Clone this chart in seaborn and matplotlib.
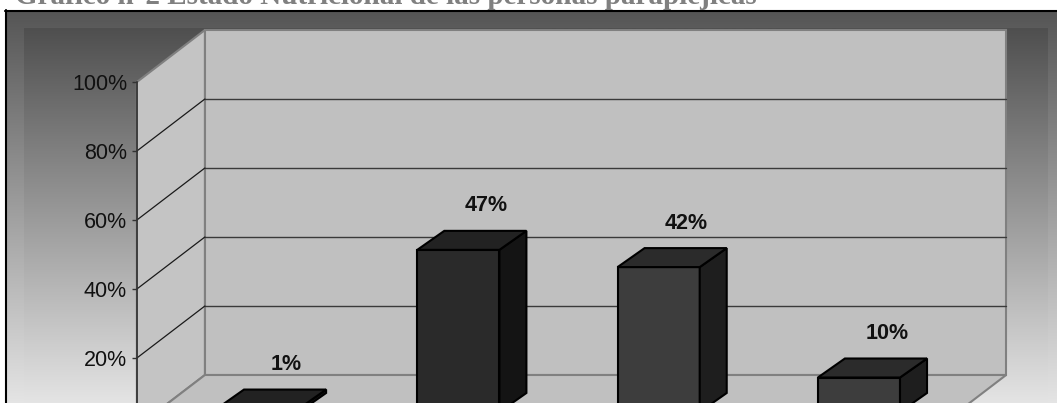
import numpy as np
import matplotlib
matplotlib.use("Agg")
import matplotlib.pyplot as plt
import seaborn as sns
from matplotlib.patches import Polygon, Rectangle
from matplotlib.ticker import PercentFormatter

# ---------------- data ----------------
title = "Gráfico n°2 Estado Nutricional de las personas parapléjicas"
categories = ["Bajo peso", "Normal", "Sobrepeso", "Obesidad"]
values = [1, 47, 42, 10]
value_labels = ["1%", "47%", "42%", "10%"]
yticks = [20, 40, 60, 80, 100]

front_colors = ["#2a2a2a", "#2a2a2a", "#3d3d3d", "#3d3d3d"]
top_colors = ["#222222", "#222222", "#2b2b2b", "#2b2b2b"]
side_colors = ["#141414", "#141414", "#1e1e1e", "#1e1e1e"]

sns.set_theme(style="white")
plt.rcParams["font.family"] = ["Liberation Sans", "DejaVu Sans"]

FW, FH = 1057, 403
fig = plt.figure(figsize=(FW / 100, FH / 100), dpi=100)
fig.patch.set_facecolor("white")

# ---------------- background (pixel coords) ----------------
bg = fig.add_axes([0, 0, 1, 1], zorder=-10)
bg.set_xlim(0, FW)
bg.set_ylim(FH, 0)
bg.axis("off")
grad = np.linspace(0, 1, 256).reshape(-1, 1)
cmap = matplotlib.colors.LinearSegmentedColormap.from_list("g", ["#555555", "#e8e8e8"])
bg.imshow(grad, extent=[5, FW, FH + 10, 10], cmap=cmap, aspect="auto", zorder=0)
cmap2 = matplotlib.colors.LinearSegmentedColormap.from_list("g2", ["#4f4f4f", "#e6e6e6"])
bg.imshow(grad, extent=[24, 1048, FH + 5, 28], cmap=cmap2, aspect="auto", zorder=1)
bg.plot([5, FW], [10.5, 10.5], color="black", lw=1.5, zorder=3)
bg.plot([5.5, 5.5], [10, FH], color="black", lw=1.5, zorder=3)

fig.text(15 / FW, 1 - 4.5 / FH, title, fontfamily="Liberation Serif", fontweight="bold",
         fontsize=21, color="#808080", va="baseline", ha="left")

# ---------------- main axes (bar front plane) ----------------
XMIN, XMAX = -0.8, 3.8
ax_left_px, ax_w_px = 97.8, 921.4
ax_bot_px, ax_h_px = 412, 345
ax = fig.add_axes([ax_left_px / FW, (FH - ax_bot_px) / FH, ax_w_px / FW, ax_h_px / FH])
ax.set_facecolor("none")

def off(dxp, dyp):
    return dxp * (XMAX - XMIN) / ax_w_px, dyp * 100 / ax_h_px

bx, by = off(47, 37)     # back wall offset
fx, fy = off(-21, -15)   # front axis plane offset
dx, dy = off(27, 19)     # bar depth

L, R = -0.5, len(categories) - 0.5
wall_edge = "#808080"
# back wall
ax.add_patch(Polygon([(L + bx, by), (R + bx, by), (R + bx, 100 + by), (L + bx, 100 + by)],
                     closed=True, facecolor="#c0c0c0", edgecolor=wall_edge, lw=1.5,
                     clip_on=False, zorder=0.2))
# side wall
ax.add_patch(Polygon([(L + fx, fy), (L + fx, 100 + fy), (L + bx, 100 + by), (L + bx, by)],
                     closed=True, facecolor="#c4c4c4", edgecolor=wall_edge, lw=1.5,
                     clip_on=False, zorder=0.2))
# floor
ax.add_patch(Polygon([(L + fx, fy), (R + fx, fy), (R + bx, by), (L + bx, by)],
                     closed=True, facecolor="#c0c0c0", edgecolor=wall_edge, lw=1.5,
                     clip_on=False, zorder=0.2))
for v in yticks[:-1]:
    ax.plot([L + bx, R + bx], [v + by, v + by], color="#3a3a3a", lw=1, clip_on=False, zorder=0.3)
    ax.plot([L + fx, L + bx], [v + fy, v + by], color="#1a1a1a", lw=0.9, clip_on=False, zorder=0.3)

sns.barplot(x=categories, y=values, hue=categories, palette=front_colors, legend=False,
            width=0.41, edgecolor="black", linewidth=1.5, saturation=1, ax=ax, zorder=2)

bars = [p for p in ax.patches if isinstance(p, Rectangle) and p.get_width() < 1]
for i, p in enumerate(bars):
    x0, w, h = p.get_x(), p.get_width(), p.get_height()
    top = Polygon([(x0, h), (x0 + w, h), (x0 + w + dx, h + dy), (x0 + dx, h + dy)], closed=True,
                  facecolor=top_colors[i], edgecolor="black", lw=1.5, clip_on=False, zorder=2.1)
    side = Polygon([(x0 + w, 0), (x0 + w + dx, dy), (x0 + w + dx, h + dy), (x0 + w, h)], closed=True,
                   facecolor=side_colors[i], edgecolor="black", lw=1.5, clip_on=False, zorder=2.1)
    ax.add_patch(side)
    ax.add_patch(top)
    ax.annotate(value_labels[i], xy=(x0 + w / 2, h), xytext=(28, 44), textcoords="offset pixels",
                ha="center", va="center", fontsize=15.5, fontweight="bold", color="#111111",
                annotation_clip=False, zorder=3)

ax.set_xlim(XMIN, XMAX)
ax.set_ylim(0, 100)
ax.set_xticks([])
ax.set_yticks([])
ax.set_xlabel("")
ax.set_ylabel("")
for s in ax.spines.values():
    s.set_visible(False)

# ---------------- front value axis ----------------
ax2 = fig.add_axes([137 / FW, (FH - 427) / FH, 0.001, 345 / FH])
ax2.set_facecolor("none")
ax2.set_ylim(0, 100)
ax2.set_yticks(yticks)
ax2.yaxis.set_major_formatter(PercentFormatter(decimals=0))
ax2.set_xticks([])
for k in ["top", "right", "bottom"]:
    ax2.spines[k].set_visible(False)
ax2.spines["left"].set_color("#333333")
ax2.spines["left"].set_linewidth(1.2)
ax2.tick_params(axis="y", left=True, length=3.6, width=1, color="#333333", pad=3.6,
                labelsize=15.5, labelcolor="#111111")

fig.savefig("out.png", dpi=100)
